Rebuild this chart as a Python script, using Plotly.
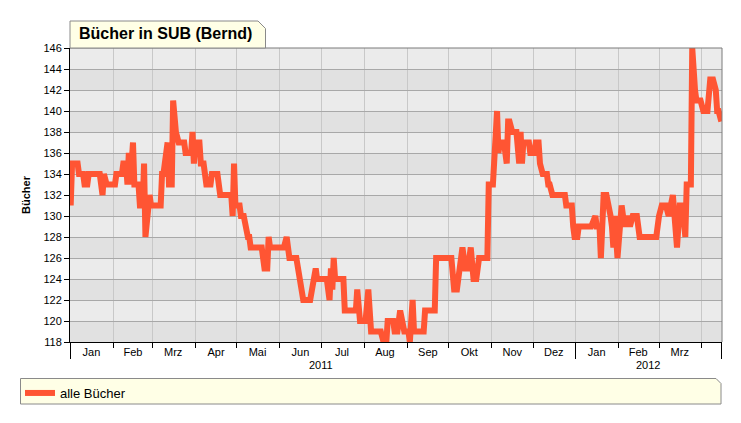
import plotly.graph_objects as go

# ---------------- data ----------------
dates = [
    "2011-01-01","2011-01-02","2011-01-06","2011-01-07","2011-01-10","2011-01-11","2011-01-13","2011-01-14",
    "2011-01-22","2011-01-24","2011-01-25","2011-01-27","2011-02-02","2011-02-03","2011-02-07","2011-02-08",
    "2011-02-10","2011-02-11","2011-02-12","2011-02-13","2011-02-15","2011-02-16","2011-02-19","2011-02-20",
    "2011-02-22","2011-02-23","2011-02-24","2011-02-27","2011-02-28","2011-03-07","2011-03-08","2011-03-09",
    "2011-03-10","2011-03-12","2011-03-13","2011-03-15","2011-03-16","2011-03-18","2011-03-20","2011-03-24",
    "2011-03-25","2011-03-29","2011-03-30","2011-03-31","2011-04-01","2011-04-04","2011-04-05","2011-04-07",
    "2011-04-08","2011-04-09","2011-04-12","2011-04-13","2011-04-17","2011-04-19","2011-04-27","2011-04-28",
    "2011-04-29","2011-04-30","2011-05-03","2011-05-04","2011-05-06","2011-05-07","2011-05-08","2011-05-09",
    "2011-05-10","2011-05-11","2011-05-19","2011-05-20","2011-05-21","2011-05-23","2011-05-24","2011-05-25",
    "2011-06-04","2011-06-06","2011-06-08","2011-06-13","2011-06-14","2011-06-16","2011-06-18","2011-06-23",
    "2011-06-24","2011-06-25","2011-06-26","2011-06-27","2011-06-28","2011-07-05","2011-07-07","2011-07-08",
    "2011-07-09","2011-07-10","2011-07-11","2011-07-17","2011-07-18","2011-07-26","2011-07-27","2011-07-29",
    "2011-08-02","2011-08-04","2011-08-06","2011-08-13","2011-08-15","2011-08-17","2011-08-18","2011-08-22",
    "2011-08-23","2011-08-25","2011-08-27","2011-08-29","2011-08-30","2011-09-02","2011-09-03","2011-09-05",
    "2011-09-06","2011-09-13","2011-09-14","2011-09-21","2011-09-22","2011-10-03","2011-10-05","2011-10-07",
    "2011-10-08","2011-10-09","2011-10-11","2011-10-13","2011-10-15","2011-10-17","2011-10-19","2011-10-21",
    "2011-10-23","2011-10-29","2011-10-30","2011-11-02","2011-11-03","2011-11-04","2011-11-05","2011-11-06",
    "2011-11-07","2011-11-10","2011-11-12","2011-11-13","2011-11-14","2011-11-16","2011-11-19","2011-11-21",
    "2011-11-22","2011-11-23","2011-11-24","2011-11-28","2011-11-29","2011-12-02","2011-12-03","2011-12-05",
    "2011-12-06","2011-12-08","2011-12-11","2011-12-12","2011-12-13","2011-12-15","2011-12-24","2011-12-25",
    "2011-12-29","2011-12-30","2011-12-31","2012-01-02","2012-01-03","2012-01-12","2012-01-14","2012-01-15",
    "2012-01-16","2012-01-18","2012-01-19","2012-01-21","2012-01-23","2012-01-25","2012-01-26","2012-01-27",
    "2012-01-28","2012-01-29","2012-01-31","2012-02-03","2012-02-04","2012-02-05","2012-02-07","2012-02-09",
    "2012-02-11","2012-02-14","2012-02-16","2012-02-28","2012-03-01","2012-03-03","2012-03-06","2012-03-08",
    "2012-03-11","2012-03-12","2012-03-14","2012-03-16","2012-03-18","2012-03-20","2012-03-21","2012-03-24",
    "2012-03-25","2012-03-27","2012-03-28","2012-03-31","2012-04-02","2012-04-05","2012-04-07","2012-04-09",
    "2012-04-11","2012-04-12","2012-04-13","2012-04-15",
]
books = [
    131,135,135,134,134,133,133,134,
    134,132,134,133,133,134,134,135,
    135,133,136,133,137,133,133,131,
    131,135,128,132,131,131,134,134,
    135,137,133,133,141,138,137,137,
    136,136,138,135,137,137,135,135,
    134,133,133,134,134,132,132,130,
    135,131,131,130,130,129,129,128,
    128,127,127,126,125,125,128,127,
    127,128,126,126,125,124,122,122,
    123,123,125,125,124,124,122,125,
    123,126,124,124,121,121,123,120,
    120,123,119,119,118,118,120,120,
    119,119,121,120,119,119,118,122,
    119,119,121,121,126,126,123,123,
    124,124,127,125,125,127,124,124,
    126,126,133,133,136,137,140,136,
    137,137,135,139,139,138,138,135,
    138,135,137,137,136,136,137,137,
    135,134,134,133,133,132,132,131,
    131,129,128,128,129,129,130,130,
    129,129,126,132,132,131,130,129,
    127,130,126,131,129,129,130,129,
    130,130,128,128,130,131,131,130,
    132,130,127,131,131,128,133,133,
    146,142,141,141,140,140,143,143,
    142,140,140,139,
]

series_name = "alle Bücher"
chart_title = "Bücher in SUB (Bernd)"
y_title = "Bücher"

month_starts = [
    "2011-01-01","2011-02-01","2011-03-01","2011-04-01","2011-05-01","2011-06-01",
    "2011-07-01","2011-08-01","2011-09-01","2011-10-01","2011-11-01","2011-12-01",
    "2012-01-01","2012-02-01","2012-03-01","2012-04-01",
]
month_mids = [
    "2011-01-16","2011-02-15","2011-03-16","2011-04-16","2011-05-16","2011-06-16",
    "2011-07-16","2011-08-16","2011-09-16","2011-10-16","2011-11-16","2011-12-16",
    "2012-01-16","2012-02-15","2012-03-16",
]
month_labels = ["Jan","Feb","Mrz","Apr","Mai","Jun","Jul","Aug","Sep","Okt","Nov","Dez",
                "Jan","Feb","Mrz"]
year_breaks = ["2011-01-01","2012-01-01","2012-04-15 11:00"]
year_labels = ["2011","2012"]
year_label_pos = ["2011-07-01","2012-02-22"]

x_range = ["2010-12-31 12:00", "2012-04-15 12:00"]
y_min, y_max, y_step = 118, 146, 2

# ---------------- styling ----------------
FONT = "Liberation Sans, Arial, sans-serif"
LINE_COLOR = "#FF5533"
BOX_FILL = "#FFFFE6"
BOX_LINE = "#8A8A8A"

W, H = 741, 423
L, R, T, B = 70, 722, 48, 342
def px(x):
    return (x - L) / (R - L)
def py(y):
    return (B - y) / (B - T)

fig = go.Figure()
fig.add_trace(go.Scatter(
    x=dates, y=books, mode="lines", name=series_name,
    line=dict(color=LINE_COLOR, width=6),
    showlegend=True,
))
# empty helper traces so the overlay axes (month labels, year separators) are drawn
for ax in ("x2", "x3"):
    fig.add_trace(go.Scatter(x=[], y=[], xaxis=ax, yaxis="y", mode="lines",
                             showlegend=False, hoverinfo="skip"))

shapes = []
for lo in range(y_min, y_max, 2 * y_step):
    shapes.append(dict(type="rect", xref="paper", yref="y", x0=0, x1=1, y0=lo, y1=lo + y_step,
                       fillcolor="#E1E1E1", line=dict(width=0), layer="below"))
shapes.append(dict(type="path", xref="paper", yref="paper",
                   path="M0,1 L1,1 L1,0", line=dict(color="#7A7A7A", width=1), layer="above"))
shapes.append(dict(type="path", xref="paper", yref="paper",
                   path=f"M{px(70)},{py(48)} L{px(70)},{py(21)} L{px(258)},{py(21)} "
                        f"L{px(265.5)},{py(28.5)} L{px(265.5)},{py(48)} Z",
                   fillcolor=BOX_FILL, line=dict(color=BOX_LINE, width=1), layer="above"))
shapes.append(dict(type="path", xref="paper", yref="paper",
                   path=f"M{px(20.5)},{py(378.5)} L{px(716)},{py(378.5)} L{px(721)},{py(383.5)} "
                        f"L{px(721)},{py(404)} L{px(20.5)},{py(404)} Z",
                   fillcolor=BOX_FILL, line=dict(color=BOX_LINE, width=1), layer="below"))

annotations = [
    dict(text=f"<b>{chart_title}</b>", xref="paper", yref="paper", x=px(77), y=py(34),
         xanchor="left", yanchor="middle", showarrow=False,
         font=dict(family=FONT, size=16, color="#000000")),
]
for lab, pos in zip(year_labels, year_label_pos):
    annotations.append(dict(text=lab, xref="x", yref="paper", x=pos, y=py(365),
                            xanchor="center", yanchor="middle", showarrow=False,
                            font=dict(family=FONT, size=11, color="#000000")))

fig.update_layout(
    width=W, height=H,
    margin=dict(l=L, r=W - R, t=T, b=H - B, pad=0),
    paper_bgcolor="#FFFFFF",
    plot_bgcolor="#EBEBEB",
    font=dict(family=FONT, size=11, color="#000000"),
    shapes=shapes,
    annotations=annotations,
    showlegend=True,
    legend=dict(
        x=px(20), y=py(378), xanchor="left", yanchor="top",
        bgcolor="rgba(0,0,0,0)", borderwidth=0,
        font=dict(family=FONT, size=13, color="#000000"),
        itemwidth=30,
    ),
    xaxis=dict(
        type="date", range=x_range,
        tickmode="array", tickvals=month_starts, ticktext=[""] * len(month_starts),
        ticks="outside", ticklen=5, tickcolor="#000000", tickwidth=1,
        showline=True, linecolor="#000000", linewidth=1,
        showgrid=True, gridcolor="#C8C8C8", gridwidth=1, zeroline=False,
    ),
    xaxis2=dict(
        type="date", range=x_range, overlaying="x", anchor="y", side="bottom",
        tickmode="array", tickvals=month_mids, ticktext=month_labels,
        ticks="", showline=False, showgrid=False, zeroline=False,
        tickfont=dict(family=FONT, size=11, color="#000000"),
        ticklabelstandoff=2,
    ),
    xaxis3=dict(
        type="date", range=x_range, overlaying="x", anchor="y", side="bottom",
        tickmode="array", tickvals=year_breaks, ticktext=[""] * len(year_breaks),
        ticks="outside", ticklen=16, tickcolor="#000000", tickwidth=1,
        showticklabels=False, showline=False, showgrid=False, zeroline=False,
    ),
    yaxis=dict(
        range=[y_min, y_max], tickmode="linear", tick0=y_min, dtick=y_step,
        ticks="outside", ticklen=5, tickcolor="#000000",
        showline=True, linecolor="#000000", linewidth=1,
        showgrid=True, gridcolor="#A8A8A8", gridwidth=1, zeroline=False,
        tickfont=dict(family=FONT, size=11, color="#000000"),
        title=dict(text=f"<b>{y_title}</b>", standoff=10,
                   font=dict(family=FONT, size=11, color="#000000")),
        automargin=False,
    ),
)

fig.write_html("out.html", config={"displayModeBar": False},
               post_script="document.body.style.margin='0';")
